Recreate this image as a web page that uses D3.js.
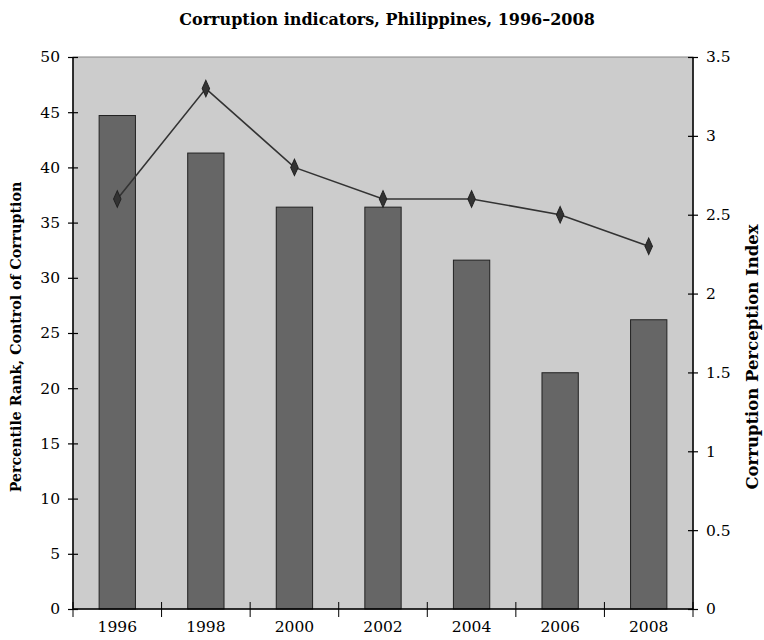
<!DOCTYPE html>
<html>
<head>
<meta charset="utf-8">
<script src="https://cdn.jsdelivr.net/npm/d3@7"></script>
<style>
  body { margin: 0; background: #fff; }
  svg text { font-family: "DejaVu Serif", serif; fill: #000; }
</style>
</head>
<body>
<svg id="chart" width="764" height="640"></svg>
<script>
var years = ["1996", "1998", "2000", "2002", "2004", "2006", "2008"];
var percentileRank = [44.7, 41.3, 36.4, 36.4, 31.6, 21.4, 26.2];
var cpi = [2.6, 3.3, 2.8, 2.6, 2.6, 2.5, 2.3];
var leftTicks = [0, 5, 10, 15, 20, 25, 30, 35, 40, 45, 50];
var rightTicks = [0, 0.5, 1, 1.5, 2, 2.5, 3, 3.5];

var svg = d3.select("#chart"),
    margin = { top: 57, right: 71, bottom: 31, left: 73 },
    width = +svg.attr("width") - margin.left - margin.right,
    height = +svg.attr("height") - margin.top - margin.bottom,
    g = svg.append("g").attr("transform", "translate(" + margin.left + "," + margin.top + ")");

var x = d3.scaleBand()
    .domain(years)
    .range([0, width])
    .paddingInner(0.59)
    .paddingOuter(0.295);

var yLeft = d3.scaleLinear().domain([0, 50]).range([height, 0]);
var yRight = d3.scaleLinear().domain([0, 3.5]).range([height, 0]);

// plot background
g.append("rect")
    .attr("width", width)
    .attr("height", height)
    .attr("fill", "#cccccc")
    .attr("stroke", "#888")
    .attr("stroke-width", 1);

g.selectAll(".bar")
  .data(percentileRank)
  .enter().append("rect")
    .attr("class", "bar")
    .attr("x", function (d, i) { return x(years[i]); })
    .attr("y", function (d) { return yLeft(d); })
    .attr("width", x.bandwidth())
    .attr("height", function (d) { return height - yLeft(d); })
    .attr("fill", "#666666")
    .attr("stroke", "#222")
    .attr("stroke-width", 1);

var line = d3.line()
    .x(function (d, i) { return x(years[i]) + x.bandwidth() / 2; })
    .y(function (d) { return yRight(d); });

g.append("path")
    .datum(cpi)
    .attr("d", line)
    .attr("fill", "none")
    .attr("stroke", "#333")
    .attr("stroke-width", 1.6);

g.selectAll(".pt")
  .data(cpi)
  .enter().append("path")
    .attr("class", "pt")
    .attr("d", d3.symbol().type(d3.symbolDiamond).size(60))
    .attr("transform", function (d, i) {
        return "translate(" + (x(years[i]) + x.bandwidth() / 2) + "," + yRight(d) + ") scale(0.9,1.15)";
    })
    .attr("fill", "#333")
    .attr("stroke", "#222");

// axes
var tickSize = 5;

var axL = g.append("g")
    .call(d3.axisLeft(yLeft).tickValues(leftTicks).tickSize(tickSize).tickPadding(8));
axL.selectAll(".tick line").attr("x1", tickSize);

var axR = g.append("g")
    .attr("transform", "translate(" + width + ",0)")
    .call(d3.axisRight(yRight).tickValues(rightTicks).tickSize(tickSize).tickPadding(8)
        .tickFormat(function (d) { return d3.format("")(d); }));
axR.selectAll(".tick line").attr("x1", -tickSize);

var axB = g.append("g")
    .attr("transform", "translate(0," + height + ")")
    .call(d3.axisBottom(x).tickSize(0).tickPadding(12));

// category boundary ticks on x axis
var step = x.step();
axB.selectAll(".bound")
  .data(d3.range(years.length + 1))
  .enter().append("line")
    .attr("class", "bound")
    .attr("x1", function (d) { return d * step; })
    .attr("x2", function (d) { return d * step; })
    .attr("y1", -7)
    .attr("y2", 8)
    .attr("stroke", "#000");

[axL, axR, axB].forEach(function (a) {
    a.select(".domain").attr("stroke", "#000").attr("stroke-width", 1.5);
    a.selectAll(".tick line").attr("stroke", "#000").attr("stroke-width", 1.2);
    a.selectAll("text").attr("font-size", 15.5).attr("font-family", "DejaVu Serif, serif").attr("fill", "#000");
});
axL.select(".domain").attr("d", "M0,0V" + height);
axR.select(".domain").attr("d", "M0,0V" + height);
axB.select(".domain").attr("d", "M0,0H" + width);

svg.append("text")
    .attr("x", 387)
    .attr("y", 25)
    .attr("text-anchor", "middle")
    .attr("font-size", 16)
    .attr("font-weight", "bold")
    .text("Corruption indicators, Philippines, 1996–2008");

svg.append("text")
    .attr("transform", "translate(21,337) rotate(-90)")
    .attr("text-anchor", "middle")
    .attr("font-size", 14.2)
    .attr("font-weight", "bold")
    .text("Percentile Rank, Control of Corruption");

svg.append("text")
    .attr("transform", "translate(758,357) rotate(-90)")
    .attr("text-anchor", "middle")
    .attr("font-size", 16.5)
    .attr("font-weight", "bold")
    .text("Corruption Perception Index");
</script>
</body>
</html>
